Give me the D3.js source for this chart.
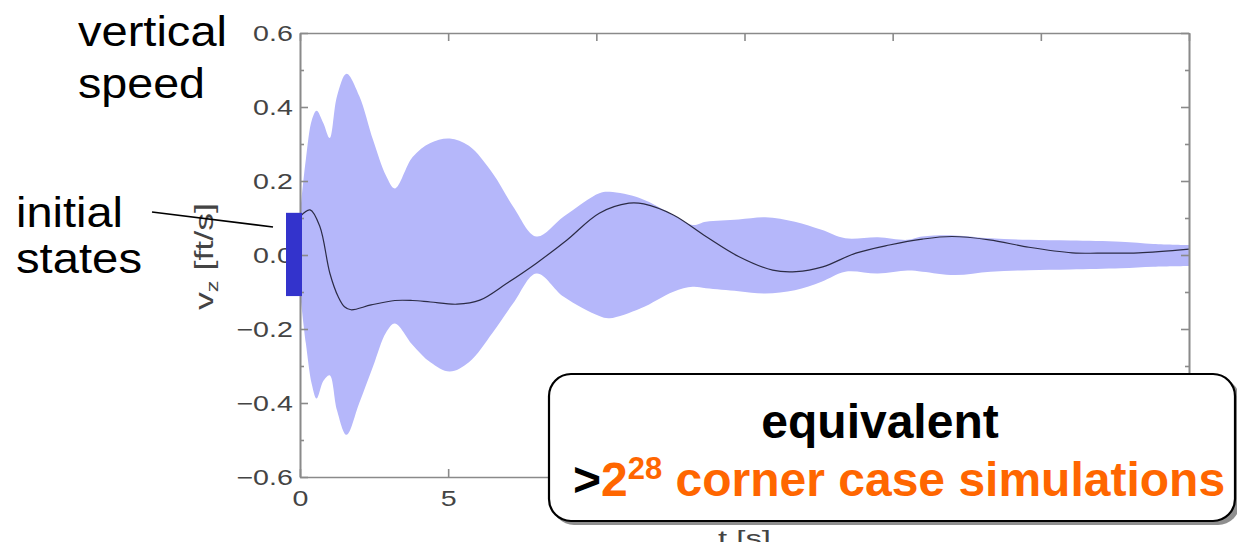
<!DOCTYPE html>
<html>
<head>
<meta charset="utf-8">
<script src="https://cdn.jsdelivr.net/npm/d3@7"></script>
<style>
  body { margin: 0; background: #fff; }
  text { font-family: "Liberation Sans", Arial, sans-serif; }
</style>
</head>
<body>
<script>
// envelope of all simulations (band)
const bandT     = [0, 0.2, 0.4, 0.56, 0.79, 1.0, 1.25, 1.57, 2.0, 2.47, 2.9, 3.2, 3.8, 4.4, 5.05, 5.7, 6.5, 7.2, 7.98, 8.9, 10.1, 10.45, 11.5, 12.6, 13.25, 13.7, 14.8, 15.7, 16.7, 17.6, 18.4, 19.5, 20.5, 21.0, 22.1, 23.3, 24.6, 26.0, 27.7, 28.8, 30];
const bandUpper = [0.11, 0.26, 0.365, 0.39, 0.356, 0.316, 0.43, 0.49, 0.43, 0.31, 0.215, 0.18, 0.265, 0.303, 0.315, 0.295, 0.221, 0.13, 0.05, 0.104, 0.167, 0.171, 0.153, 0.108, 0.081, 0.09, 0.096, 0.102, 0.09, 0.068, 0.045, 0.048, 0.041, 0.05, 0.053, 0.045, 0.041, 0.039, 0.036, 0.03, 0.027];
const bandLower = [-0.10, -0.24, -0.35, -0.388, -0.34, -0.325, -0.42, -0.486, -0.40, -0.30, -0.21, -0.185, -0.243, -0.29, -0.315, -0.29, -0.21, -0.13, -0.05, -0.113, -0.165, -0.171, -0.144, -0.099, -0.086, -0.09, -0.098, -0.104, -0.095, -0.072, -0.045, -0.05, -0.042, -0.045, -0.054, -0.045, -0.041, -0.039, -0.036, -0.032, -0.03];

// nominal trajectory
const meanT = [0, 0.34, 0.67, 1.01, 1.29, 1.5, 1.72, 2.4, 3.2, 3.8, 4.4, 5.3, 6.07, 6.97, 7.98, 9.0, 10.1, 11.1, 11.6, 12.6, 13.7, 14.8, 15.95, 16.74, 17.64, 18.76, 19.89, 21.0, 22.0, 23.26, 24.6, 26.06, 27.2, 28.3, 30];
const meanV = [0.104, 0.122, 0.077, -0.05, -0.113, -0.14, -0.148, -0.135, -0.123, -0.123, -0.127, -0.133, -0.122, -0.077, -0.022, 0.04, 0.113, 0.14, 0.138, 0.108, 0.05, -0.004, -0.041, -0.045, -0.032, 0.005, 0.027, 0.043, 0.05, 0.041, 0.021, 0.006, 0.005, 0.006, 0.016];

const initStates = [-0.111, 0.114];

const yTicks = [-0.6, -0.4, -0.2, 0.0, 0.2, 0.4, 0.6];
const yMinor = [-0.5, -0.3, -0.1, 0.1, 0.3, 0.5];
const xTicks = [0, 5, 10, 15, 20, 25, 30];

const width = 1237;
const height = 542;
const stretch = 1.3;   // labels of the plot look horizontally stretched
const axisGray = "#8a8a8a";

const svg = d3.select("body").append("svg")
    .attr("width", width)
    .attr("height", height);

const xscale = d3.scaleLinear().domain([0, 30]).range([300, 1189]);
const yscale = d3.scaleLinear().domain([-0.6, 0.6]).range([477, 33]);

// band
const band = bandT.map((t, i) => ({t: t, lo: bandLower[i], hi: bandUpper[i]}));
svg.append("path")
    .datum(band)
    .attr("fill", "#b5b7fa")
    .attr("d", d3.area()
        .x(d => xscale(d.t))
        .y0(d => yscale(d.lo))
        .y1(d => yscale(d.hi))
        .curve(d3.curveCatmullRom.alpha(0.5)));

// nominal line
const mean = meanT.map((t, i) => ({t: t, v: meanV[i]}));
svg.append("path")
    .datum(mean)
    .attr("fill", "none")
    .attr("stroke", "#2b2b45")
    .attr("stroke-width", 1.2)
    .attr("d", d3.line()
        .x(d => xscale(d.t))
        .y(d => yscale(d.v))
        .curve(d3.curveCatmullRom.alpha(0.5)));

// axes
function styleAxis(g) {
    g.selectAll("path, line").attr("stroke", axisGray).attr("stroke-width", 1.6);
    g.selectAll("text").attr("fill", "#444").style("font-size", "22px")
        .style("font-family", "'Liberation Sans', Arial, sans-serif");
}

svg.append("g")
    .attr("transform", `translate(${xscale(0)},0)`)
    .call(d3.axisLeft(yscale).tickValues(yTicks).tickFormat(d3.format(".1f"))
        .tickSizeInner(-8).tickSizeOuter(0).tickPadding(5.5))
    .call(styleAxis)
    .call(g => g.selectAll("text").attr("transform", `scale(${stretch},1)`));

svg.append("g")
    .attr("transform", `translate(${xscale(0)},0)`)
    .call(d3.axisLeft(yscale).tickValues(yMinor).tickFormat("").tickSizeInner(-4).tickSizeOuter(0))
    .call(styleAxis);

svg.append("g")
    .attr("transform", `translate(${xscale(30)},0)`)
    .call(d3.axisRight(yscale).tickValues(yTicks).tickFormat("").tickSizeInner(-8).tickSizeOuter(0))
    .call(styleAxis);

svg.append("g")
    .attr("transform", `translate(${xscale(30)},0)`)
    .call(d3.axisRight(yscale).tickValues(yMinor).tickFormat("").tickSizeInner(-4).tickSizeOuter(0))
    .call(styleAxis);

svg.append("g")
    .attr("transform", `translate(0,${yscale(-0.6)})`)
    .call(d3.axisBottom(xscale).tickValues(xTicks).tickFormat(d3.format("d"))
        .tickSizeInner(-8).tickSizeOuter(0).tickPadding(13))
    .call(styleAxis)
    .call(g => g.selectAll("text").attr("transform", `scale(${stretch},1)`));

svg.append("g")
    .attr("transform", `translate(0,${yscale(0.6)})`)
    .call(d3.axisTop(xscale).tickValues(xTicks).tickFormat("").tickSizeInner(-8).tickSizeOuter(0))
    .call(styleAxis);

// axis titles
svg.append("text")
    .attr("transform", `translate(213,310) rotate(-90)`)
    .attr("fill", "#444")
    .style("font-size", "26px")
    .attr("textLength", 107)
    .attr("lengthAdjust", "spacingAndGlyphs")
    .html('v<tspan dy="5" font-size="17">z</tspan><tspan dy="-5"> [ft/s]</tspan>');

svg.append("text")
    .attr("x", 718).attr("y", 546)
    .attr("fill", "#444")
    .style("font-size", "22px")
    .attr("textLength", 53)
    .attr("lengthAdjust", "spacingAndGlyphs")
    .text("t [s]");

// initial states marker
svg.append("rect")
    .attr("x", xscale(0) - 14)
    .attr("width", 16)
    .attr("y", yscale(initStates[1]))
    .attr("height", yscale(initStates[0]) - yscale(initStates[1]))
    .attr("fill", "#3333cc");

// left annotations
const notes = [
    {txt: "vertical", x: 78, y: 46, len: 149},
    {txt: "speed",    x: 78, y: 98, len: 127},
    {txt: "initial",  x: 16, y: 227, len: 107},
    {txt: "states",   x: 16, y: 273, len: 126}
];
svg.selectAll(".note")
    .data(notes)
    .enter()
    .append("text")
    .attr("class", "note")
    .attr("x", d => d.x)
    .attr("y", d => d.y)
    .attr("textLength", d => d.len)
    .attr("lengthAdjust", "spacingAndGlyphs")
    .style("font-size", "42px")
    .attr("fill", "#000")
    .text(d => d.txt);

svg.append("line")
    .attr("x1", 152).attr("y1", 212)
    .attr("x2", 273).attr("y2", 227)
    .attr("stroke", "#000")
    .attr("stroke-width", 1.6);

// callout box
svg.append("rect")
    .attr("x", 552).attr("y", 378)
    .attr("width", 688).attr("height", 147)
    .attr("rx", 22)
    .attr("fill", "#8f8f8f");
svg.append("rect")
    .attr("x", 549).attr("y", 374)
    .attr("width", 686).attr("height", 147)
    .attr("rx", 22)
    .attr("fill", "#fff")
    .attr("stroke", "#000")
    .attr("stroke-width", 2.2);

svg.append("text")
    .attr("x", 880).attr("y", 438)
    .attr("text-anchor", "middle")
    .style("font-size", "48px")
    .style("font-weight", "bold")
    .attr("fill", "#000")
    .text("equivalent");

svg.append("text")
    .attr("x", 573).attr("y", 496)
    .style("font-size", "48px")
    .style("font-weight", "bold")
    .html('<tspan fill="#000">&gt;</tspan><tspan fill="#ff6600">2</tspan>'
        + '<tspan fill="#ff6600" font-size="31" dy="-17">28</tspan>'
        + '<tspan fill="#ff6600" dy="17"> corner case simulations</tspan>');
</script>
</body>
</html>
